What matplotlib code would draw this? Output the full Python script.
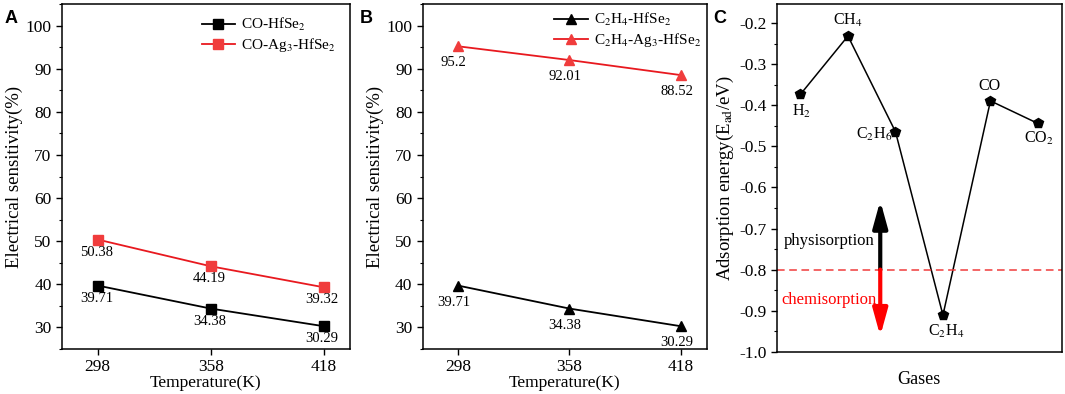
import matplotlib
matplotlib.use("Agg")
import matplotlib.pyplot as plt
from matplotlib.ticker import MultipleLocator, FormatStrFormatter

plt.rcParams['font.family'] = ['Liberation Serif', 'DejaVu Serif']
plt.rcParams['mathtext.fontset'] = 'stix'

# panel A / B data
temps = [298, 358, 418]
co_hfse2 = [39.71, 34.38, 30.29]
co_ag3_hfse2 = [50.38, 44.19, 39.32]
c2h4_hfse2 = [39.71, 34.38, 30.29]
c2h4_ag3_hfse2 = [95.2, 92.01, 88.52]

# panel C data
gases = ['H$_2$', 'CH$_4$', 'C$_2$H$_6$', 'C$_2$H$_4$', 'CO', 'CO$_2$']
e_ads = [-0.373, -0.231, -0.464, -0.911, -0.389, -0.444]

RED = '#e8191f'
RED_M = '#f03c3c'

fig = plt.figure(figsize=(10.65, 3.94), dpi=100)
axA = fig.add_axes([0.0582, 0.1142, 0.2704, 0.8756])
axB = fig.add_axes([0.3969, 0.1142, 0.2667, 0.8756])
axC = fig.add_axes([0.7293, 0.1074, 0.2676, 0.8824])


def style_temp_axis(ax):
    ax.set_xlim(279, 432)
    ax.set_ylim(25, 105)
    ax.set_xticks(temps)
    ax.yaxis.set_major_locator(MultipleLocator(10))
    ax.yaxis.set_minor_locator(MultipleLocator(5))
    ax.tick_params(axis='both', which='major', labelsize=12.5, length=4, width=1)
    ax.tick_params(axis='y', which='minor', length=2.5, width=0.8)
    ax.set_xlabel('Temperature(K)', fontsize=12.5, labelpad=0)
    ax.set_ylabel('Electrical sensitivity(%)', fontsize=13.5, labelpad=2)
    for s in ax.spines.values():
        s.set_linewidth(1.1)


# --- A
axA.plot(temps, co_hfse2, color='black', marker='s', ms=6.5, lw=1.3, label='CO-HfSe$_2$')
axA.plot(temps, co_ag3_hfse2, color=RED, marker='s', ms=6.5, mfc=RED_M, mec=RED_M, lw=1.3,
         label='CO-Ag$_3$-HfSe$_2$')
for x, y in zip(temps, co_hfse2):
    axA.annotate(f'{y:.2f}', (x, y), xytext=(-1, -9), textcoords='offset points',
                 ha='center', va='center', fontsize=10.5)
for x, y in zip(temps, co_ag3_hfse2):
    axA.annotate(f'{y:.2f}', (x, y), xytext=(-1, -9), textcoords='offset points',
                 ha='center', va='center', fontsize=10.5)
style_temp_axis(axA)
axA.legend(loc='upper right', frameon=False, fontsize=11, handlelength=2.2,
           bbox_to_anchor=(1.0, 1.005), labelspacing=0.2, handletextpad=0.4)

# --- B
axB.plot(temps, c2h4_hfse2, color='black', marker='^', ms=7.5, lw=1.3, label='C$_2$H$_4$-HfSe$_2$')
axB.plot(temps, c2h4_ag3_hfse2, color=RED, marker='^', ms=7.5, mfc=RED_M, mec=RED_M, lw=1.3,
         label='C$_2$H$_4$-Ag$_3$-HfSe$_2$')
for x, y in zip(temps, c2h4_hfse2):
    axB.annotate(f'{y:.2f}', (x, y), xytext=(-3, -12), textcoords='offset points',
                 ha='center', va='center', fontsize=10.5)
for x, y in zip(temps, c2h4_ag3_hfse2):
    axB.annotate(f'{y:g}' if y == 95.2 else f'{y:.2f}', (x, y), xytext=(-3, -12),
                 textcoords='offset points', ha='center', va='center', fontsize=10.5)
style_temp_axis(axB)
axB.legend(loc='upper right', frameon=False, fontsize=11, handlelength=2.2,
           bbox_to_anchor=(1.03, 1.02), labelspacing=0.2, handletextpad=0.4)

# --- C
xs = list(range(1, len(gases) + 1))
axC.plot(xs, e_ads, color='black', marker='p', ms=7, lw=1.1)
offsets = [(1, -12), (0, 11), (-15, -2), (2, -12), (-1, 11), (1, -11)]
for x, y, g, off in zip(xs, e_ads, gases, offsets):
    axC.annotate(g, (x, y), xytext=off, textcoords='offset points',
                 ha='center', va='center', fontsize=11.5)
axC.axhline(-0.8, color='#f03c3c', ls=(0, (5, 3)), lw=1.1)
arrow_kw = dict(arrowstyle='-|>,head_length=0.8,head_width=0.22', lw=3,
                mutation_scale=20, shrinkA=0, shrinkB=0)
axC.annotate('', xy=(2.68, -0.632), xytext=(2.68, -0.8),
             arrowprops=dict(color='black', **arrow_kw))
axC.annotate('', xy=(2.68, -0.962), xytext=(2.68, -0.8),
             arrowprops=dict(color='red', **arrow_kw))
axC.text(1.6, -0.73, 'physisorption', ha='center', va='center', fontsize=12)
axC.text(1.6, -0.874, 'chemisorption', ha='center', va='center', fontsize=12, color='red')
axC.set_xlim(0.5, 6.5)
axC.set_ylim(-1.0, -0.153)
axC.set_xticks([])
axC.yaxis.set_major_locator(MultipleLocator(0.1))
axC.yaxis.set_minor_locator(MultipleLocator(0.05))
axC.yaxis.set_major_formatter(FormatStrFormatter('%.1f'))
axC.tick_params(axis='y', which='major', labelsize=12.5, length=4, width=1)
axC.tick_params(axis='y', which='minor', length=2.5, width=0.8)
axC.set_xlabel('Gases', fontsize=13, labelpad=14)
axC.set_ylabel(r'Adsorption energy(E$_{\mathrm{ad}}$/eV)', fontsize=13.5, labelpad=2)
for s in axC.spines.values():
    s.set_linewidth(1.1)

# panel letters
for lbl, xp in [('A', 0.004), ('B', 0.338), ('C', 0.670)]:
    fig.text(xp, 0.975, lbl, fontsize=13, fontweight='bold', family='Liberation Sans',
             va='top', ha='left')

fig.savefig('out.png', dpi=100)
